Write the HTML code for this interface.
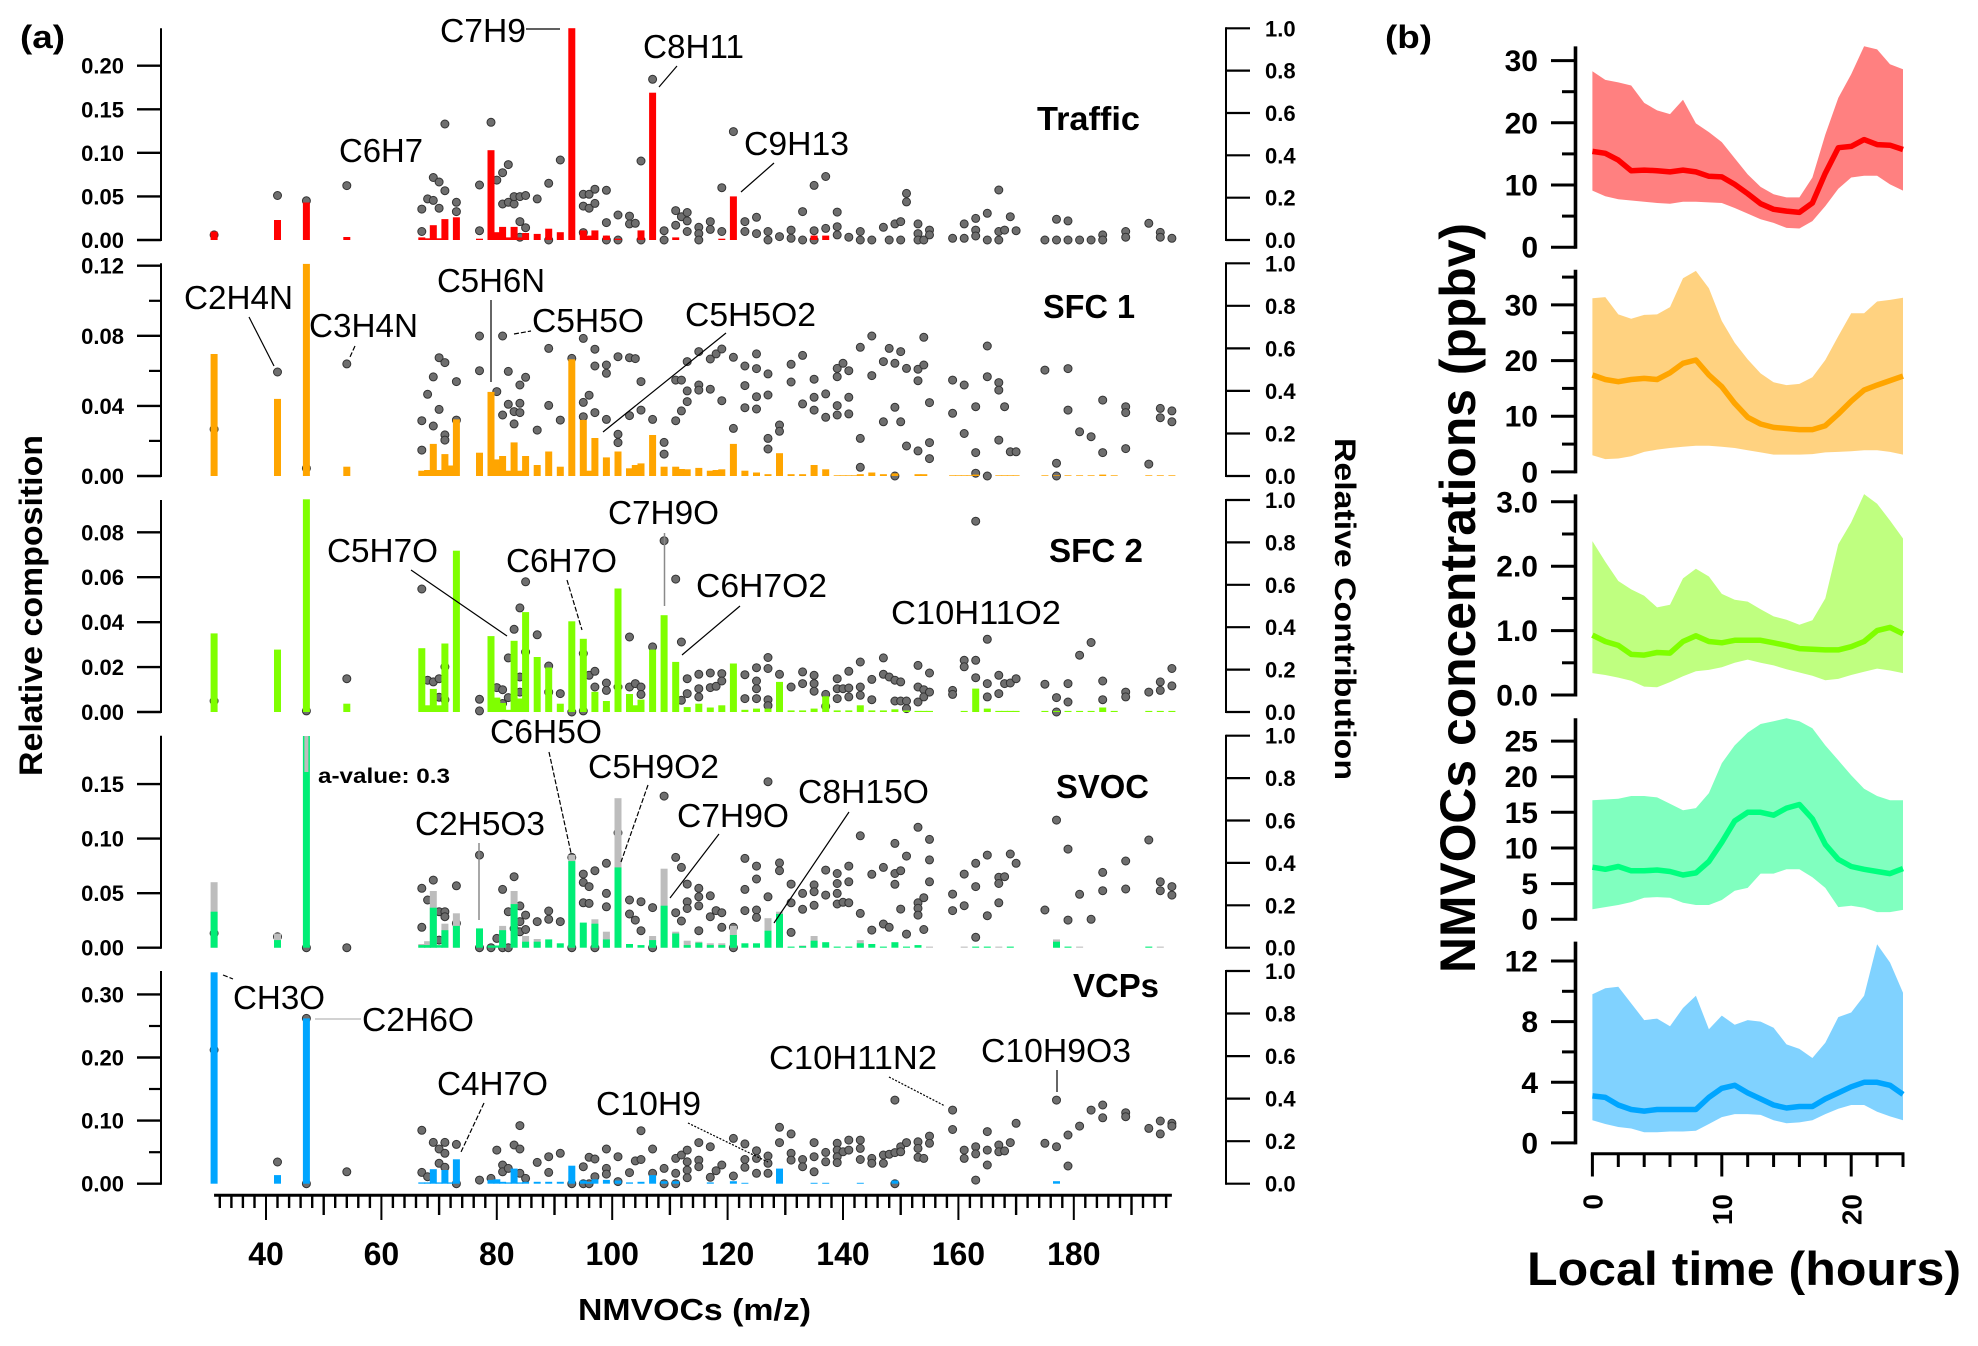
<!DOCTYPE html>
<html lang="en">
<head>
<meta charset="utf-8">
<title>NMVOC factor profiles and diurnal concentrations</title>
<style>
html,body{margin:0;padding:0;background:#fff;}
svg{display:block;font-family:"Liberation Sans",Arial,sans-serif;}
.fm{font-size:33px;fill:#000;}
.pn{font-size:33px;font-weight:bold;fill:#000;}
.ld{stroke:#000;stroke-width:1.2;fill:none;}
.ldg{stroke:#8a8a8a;stroke-width:1.5;fill:none;}
.ldl{stroke:#c4c4c4;stroke-width:1.5;fill:none;}
.dash{stroke-dasharray:5 2;}
.dot{stroke-dasharray:2 1.5;}
</style>
</head>
<body>
<svg id="chart" xmlns="http://www.w3.org/2000/svg" width="1978" height="1346" viewBox="0 0 1978 1346">
<rect x="0" y="0" width="1978" height="1346" fill="#fff"/>
<g id="layer-a"></g>
<g id="layer-b"></g>

<text x="20" y="48" font-size="32" font-weight="bold" textLength="45" lengthAdjust="spacingAndGlyphs">(a)</text>
<text x="1385" y="48" font-size="32" font-weight="bold" textLength="47" lengthAdjust="spacingAndGlyphs">(b)</text>
<text transform="translate(42,776) rotate(-90)" font-size="32" font-weight="bold" textLength="341" lengthAdjust="spacingAndGlyphs">Relative composition</text>
<text transform="translate(1335,438) rotate(90)" font-size="30" font-weight="bold" textLength="342" lengthAdjust="spacingAndGlyphs">Relative Contribution</text>
<text x="578" y="1320" font-size="31" font-weight="bold" textLength="233" lengthAdjust="spacingAndGlyphs">NMVOCs (m/z)</text>
<text transform="translate(1475,973) rotate(-90)" font-size="50" font-weight="bold" textLength="750" lengthAdjust="spacingAndGlyphs">NMVOCs concentrations (ppbv)</text>
<text x="1527" y="1285" font-size="47" font-weight="bold" textLength="434" lengthAdjust="spacingAndGlyphs">Local time (hours)</text>

<text class="pn" x="1037" y="130" textLength="103" lengthAdjust="spacingAndGlyphs">Traffic</text>
<text class="pn" x="1043" y="318" textLength="92" lengthAdjust="spacingAndGlyphs">SFC 1</text>
<text class="pn" x="1049" y="562" textLength="94" lengthAdjust="spacingAndGlyphs">SFC 2</text>
<text class="pn" x="1056" y="798" textLength="93" lengthAdjust="spacingAndGlyphs">SVOC</text>
<text class="pn" x="1073" y="997" textLength="86" lengthAdjust="spacingAndGlyphs">VCPs</text>

<text class="fm" x="440" y="42" textLength="86" lengthAdjust="spacingAndGlyphs">C7H9</text>
<line class="ld" x1="526" y1="29" x2="560" y2="29"/>
<text class="fm" x="643" y="58" textLength="101" lengthAdjust="spacingAndGlyphs">C8H11</text>
<line class="ld" x1="677" y1="66" x2="659" y2="87"/>
<text class="fm" x="339" y="162" textLength="84" lengthAdjust="spacingAndGlyphs">C6H7</text>
<text class="fm" x="744" y="155" textLength="105" lengthAdjust="spacingAndGlyphs">C9H13</text>
<line class="ld" x1="774" y1="163" x2="741" y2="192"/>

<text class="fm" x="184" y="309" textLength="109" lengthAdjust="spacingAndGlyphs">C2H4N</text>
<line class="ld" x1="249" y1="317" x2="274" y2="366"/>
<text class="fm" x="309" y="337" textLength="109" lengthAdjust="spacingAndGlyphs">C3H4N</text>
<line class="ld dash" x1="355" y1="346" x2="350" y2="357"/>
<text class="fm" x="437" y="292" textLength="108" lengthAdjust="spacingAndGlyphs">C5H6N</text>
<line class="ld" x1="491" y1="300" x2="491" y2="382"/>
<text class="fm" x="532" y="332" textLength="112" lengthAdjust="spacingAndGlyphs">C5H5O</text>
<line class="ld dash" x1="514" y1="334" x2="531" y2="331"/>
<text class="fm" x="685" y="326" textLength="131" lengthAdjust="spacingAndGlyphs">C5H5O2</text>
<line class="ld" x1="726" y1="333" x2="603" y2="432"/>

<text class="fm" x="327" y="562" textLength="111" lengthAdjust="spacingAndGlyphs">C5H7O</text>
<line class="ld" x1="411" y1="570" x2="507" y2="636"/>
<text class="fm" x="506" y="572" textLength="111" lengthAdjust="spacingAndGlyphs">C6H7O</text>
<line class="ld dash" x1="567" y1="580" x2="582" y2="630"/>
<text class="fm" x="608" y="524" textLength="111" lengthAdjust="spacingAndGlyphs">C7H9O</text>
<line class="ldg" x1="664.5" y1="533" x2="664.5" y2="606"/>
<text class="fm" x="696" y="597" textLength="131" lengthAdjust="spacingAndGlyphs">C6H7O2</text>
<line class="ld" x1="740" y1="606" x2="682" y2="655"/>
<text class="fm" x="891" y="624" textLength="170" lengthAdjust="spacingAndGlyphs">C10H11O2</text>

<text class="fm" x="490" y="743" textLength="112" lengthAdjust="spacingAndGlyphs">C6H5O</text>
<line class="ld dash" x1="549" y1="752" x2="571" y2="853"/>
<text class="fm" x="588" y="778" textLength="131" lengthAdjust="spacingAndGlyphs">C5H9O2</text>
<line class="ld dash" x1="648" y1="785" x2="621" y2="862"/>
<text x="318" y="783" font-size="21" font-weight="bold" textLength="132" lengthAdjust="spacingAndGlyphs">a-value: 0.3</text>
<text class="fm" x="415" y="835" textLength="130" lengthAdjust="spacingAndGlyphs">C2H5O3</text>
<line class="ldg" x1="479" y1="843" x2="479" y2="920"/>
<text class="fm" x="677" y="827" textLength="112" lengthAdjust="spacingAndGlyphs">C7H9O</text>
<line class="ld" x1="719" y1="834" x2="670" y2="898"/>
<text class="fm" x="798" y="803" textLength="131" lengthAdjust="spacingAndGlyphs">C8H15O</text>
<line class="ld" x1="849" y1="812" x2="774" y2="923"/>

<text class="fm" x="233" y="1009" textLength="92" lengthAdjust="spacingAndGlyphs">CH3O</text>
<line class="ld dash" x1="223" y1="975" x2="233" y2="979"/>
<text class="fm" x="362" y="1031" textLength="112" lengthAdjust="spacingAndGlyphs">C2H6O</text>
<line class="ldl" x1="315" y1="1019" x2="361" y2="1019"/>
<text class="fm" x="437" y="1095" textLength="111" lengthAdjust="spacingAndGlyphs">C4H7O</text>
<line class="ld dash" x1="484" y1="1103" x2="461" y2="1152"/>
<text class="fm" x="596" y="1115" textLength="105" lengthAdjust="spacingAndGlyphs">C10H9</text>
<line class="ld dot" x1="688" y1="1123" x2="768" y2="1162"/>
<text class="fm" x="769" y="1069" textLength="168" lengthAdjust="spacingAndGlyphs">C10H11N2</text>
<line class="ld dot" x1="889" y1="1077" x2="945" y2="1106"/>
<text class="fm" x="981" y="1062" textLength="150" lengthAdjust="spacingAndGlyphs">C10H9O3</text>
<line class="ld" x1="1057" y1="1070" x2="1057" y2="1092"/>
</svg>

<script>
/* ---------- Panel (a) data: [m/z, value] ---------- */
const trafficBars=[[31,.0096],[42,.023],[47,.043],[54,.0034],[67,.003],[68,.002],[69,.017],[70,.002],[71,.024],[73,.026],[77,.0015],[79,.103],[80,.009],[81,.015],[82,.003],[83,.015],[84,.003],[85,.008],[87,.007],[89,.013],[91,.009],[93,.243],[95,.011],[96,.005],[97,.011],[99,.005],[101,.0015],[105,.011],[107,.169],[111,.003],[119,.0015],[121,.05],[135,.005],[137,.005]];
const trafficPoints=[[31,.024],[42,.21],[47,.185],[54,.257],[67,.146],[67,.04],[68,.194],[69,.295],[69,.187],[70,.274],[70,.15],[71,.233],[71,.548],[73,.178],[73,.134],[77,.26],[77,.044],[79,.556],[80,.283],[81,.318],[81,.17],[82,.356],[82,.178],[83,.17],[83,.205],[84,.205],[84,.087],[84,.013],[85,.21],[85,.058],[87,.194],[89,.268],[89,0],[91,.378],[95,.216],[95,.16],[95,.035],[96,.216],[96,.15],[97,.24],[97,.173],[99,.235],[99,.082],[99,0],[101,.118],[101,0],[103,.113],[103,.076],[104,.079],[105,.373],[105,0],[107,.759],[109,.044],[109,0],[111,.139],[111,.07],[112,.11],[113,.13],[113,.09],[113,.04],[115,.06],[115,.03],[115,0],[117,.087],[117,.05],[119,.04],[119,.247],[121,.512],[123,.087],[123,.04],[125,.107],[125,.03],[127,.04],[127,0],[129,.016],[131,.047],[131,.008],[133,.134],[133,0],[135,.258],[135,.044],[135,0],[137,.3],[137,.055],[139,.132],[139,.063],[139,.024],[141,.013],[143,.04],[143,0],[145,0],[147,.06],[148,0],[149,.076],[150,.087],[150,0],[151,.22],[151,.18],[153,.076],[153,.03],[153,0],[154,0],[155,.047],[155,.024],[159,.008],[161,.076],[161,.008],[163,.102],[163,.047],[163,.019],[165,.126],[165,0],[167,.236],[167,.04],[167,0],[168,.047],[169,.11],[170,.044],[175,0],[177,.098],[177,0],[179,.09],[179,0],[181,0],[183,0],[185,.024],[185,0],[189,.04],[189,.013],[193,.079],[195,.036],[195,.013],[197,.008]];

const sfc1Bars=[[31,.0696],[42,.044],[47,.121],[54,.0053],[67,.003],[68,.0034],[69,.0183],[70,.0034],[71,.0125],[72,.006],[73,.0323],[77,.0133],[79,.048],[80,.0095],[81,.0114],[82,.003],[83,.0192],[84,.003],[85,.0114],[87,.0063],[89,.014],[91,.0053],[93,.0666],[95,.032],[96,.003],[97,.0217],[99,.0106],[101,.014],[103,.0044],[104,.0063],[105,.0072],[107,.0234],[109,.0053],[111,.0053],[112,.004],[113,.0038],[115,.0046],[117,.003],[118,.0034],[119,.0038],[121,.0183],[123,.003],[125,.002],[127,.001],[129,.013],[131,.001],[133,.001],[135,.0063],[137,.0038],[139,.0004],[140,.0004],[141,.0004],[142,.0004],[143,.001],[145,.002],[147,.001],[149,.0015],[153,.001],[154,.001],[159,.0004],[160,.0004],[161,.0004],[162,.0004],[163,.0008],[167,.0004],[168,.0004],[169,.0004],[170,.0004],[175,.0004],[177,.0004],[179,.0004],[181,.0004],[183,.0004],[185,.0008],[187,.0004],[193,.0004],[195,.0004],[197,.0004]];
const sfc1Points=[[31,.22],[42,.489],[47,.036],[54,.527],[67,.26],[67,.122],[68,.384],[69,.466],[69,.235],[70,.556],[70,.313],[71,.533],[71,.193],[71,.169],[73,.444],[73,.263],[77,.658],[77,.495],[80,.397],[81,.658],[81,.287],[82,.492],[82,.337],[83,.303],[83,.245],[84,.428],[84,.342],[84,.298],[85,.464],[87,.216],[89,.6],[89,.332],[91,.263],[93,.553],[95,.647],[95,.346],[95,.279],[96,.38],[97,.596],[97,.517],[97,.298],[99,.522],[99,.483],[99,.266],[101,.561],[101,.196],[101,.157],[103,.556],[103,.284],[104,.552],[105,.444],[105,.31],[107,.266],[109,.158],[109,.103],[111,.26],[112,.306],[113,.35],[113,.4],[113,.538],[111,.451],[112,.451],[115,.585],[115,.428],[115,.404],[117,.55],[117,.408],[118,.574],[119,.597],[119,.354],[121,.558],[121,.224],[123,.517],[123,.425],[123,.321],[125,.574],[125,.505],[125,.373],[125,.315],[127,.48],[127,.381],[127,.177],[127,.127],[129,.24],[129,.21],[131,.525],[131,.442],[133,.567],[133,.339],[135,.455],[135,.37],[135,.31],[137,.386],[137,.276],[139,.506],[139,.467],[139,.331],[139,.287],[140,.53],[141,.495],[141,.37],[141,.292],[143,.605],[143,.177],[143,.041],[145,.658],[145,.472],[147,.538],[147,.255],[148,.6],[149,.53],[149,.323],[149,0],[150,.585],[150,.255],[151,.506],[151,.141],[153,.502],[153,.448],[153,.118],[154,.652],[154,.522],[155,.345],[155,.157],[155,.082],[159,.451],[159,.295],[161,.428],[161,.2],[163,.326],[163,.11],[163,.013],[165,.611],[165,.467],[165,0],[167,.439],[167,.404],[167,.169],[168,.326],[169,.114],[170,.114],[175,.498],[177,.06],[177,0],[179,.505],[179,.31],[181,.208],[183,.185],[185,.357],[185,.11],[189,.326],[189,.298],[189,.129],[193,.056],[195,.318],[195,.274],[197,.306],[197,.255]];

const sfc2Bars=[[31,.035],[42,.0278],[47,.0947],[54,.0037],[67,.0284],[68,.003],[69,.0103],[70,.003],[71,.0305],[73,.0718],[79,.0338],[80,.0064],[81,.004],[82,.001],[83,.0317],[84,.006],[85,.0445],[87,.0245],[89,.0198],[91,.0037],[93,.0404],[95,.0326],[97,.009],[99,.0049],[101,.055],[103,.008],[104,.003],[105,.0055],[107,.0278],[109,.0431],[111,.0223],[113,.0022],[115,.0037],[117,.002],[119,.003],[121,.0216],[123,.001],[125,.0015],[127,.0015],[129,.0134],[131,.0007],[133,.0007],[135,.0015],[137,.007],[139,.0007],[141,.0007],[143,.003],[145,.0007],[147,.0007],[149,.0012],[151,.0007],[153,.0005],[154,.0005],[155,.0005],[161,.0005],[163,.0104],[165,.0015],[167,.0005],[168,.0005],[169,.0005],[170,.0005],[175,.0005],[177,.0005],[179,.0005],[181,.0005],[183,.0005],[185,.002],[187,.0005],[193,.0005],[195,.0005],[197,.0005]];
const sfc2Points=[[31,.052],[47,.005],[54,.157],[67,.58],[68,.15],[69,.142],[70,.157],[71,.213],[70,.07],[71,.058],[77,.06],[77,.005],[80,.115],[81,.105],[81,.04],[82,.255],[82,.068],[83,.39],[84,.491],[84,.165],[84,.094],[85,.614],[85,.283],[87,.364],[89,.217],[89,.094],[91,.087],[93,0],[95,.276],[95,.005],[96,.173],[97,.192],[97,.118],[99,.137],[99,.102],[101,.118],[103,.354],[103,.118],[104,.134],[105,.118],[105,.083],[107,.307],[109,.808],[111,.627],[112,.33],[113,.157],[113,.087],[112,.055],[115,.178],[115,.11],[115,.071],[117,.184],[117,.115],[118,.121],[119,.181],[119,.146],[123,.176],[123,.063],[125,.209],[125,.146],[125,.11],[125,.063],[127,.257],[127,.205],[127,.058],[127,.03],[129,.178],[131,.118],[133,.189],[133,.134],[135,.173],[135,.134],[135,.098],[137,.083],[137,.027],[139,.157],[139,.11],[139,.063],[140,.11],[141,.192],[141,.113],[141,.071],[143,.236],[143,.118],[143,.079],[145,.154],[145,.058],[147,.255],[147,.178],[148,.165],[149,.15],[149,.052],[150,.142],[150,.052],[151,.052],[151,.016],[153,.22],[153,.118],[153,.047],[154,.105],[154,.071],[155,.184],[155,.094],[159,.102],[159,.083],[161,.244],[161,.213],[163,.244],[163,.162],[163,.9],[165,.343],[165,.134],[165,.071],[167,.173],[167,.087],[168,.134],[169,.137],[170,.157],[175,.131],[177,.068],[177,0],[179,.134],[179,.047],[181,.268],[183,.328],[185,.146],[185,.058],[189,.094],[189,.071],[193,.094],[195,.142],[195,.102],[197,.205],[197,.123]];

const svocTotalBars=[[31,.06],[42,.013],[67,.0034],[68,.006],[69,.052],[71,.022],[73,.0315],[81,.02],[83,.052],[85,.0107],[87,.008],[93,.085],[97,.026],[99,.0147],[101,.137],[107,.0107],[109,.0724],[111,.0147],[113,.0064],[115,.0055],[117,.004],[119,.004],[121,.02],[127,.027],[129,.033],[133,.002],[135,.0107],[143,.007],[155,.001],[161,.001],[167,.001],[177,.0076],[181,.001],[195,.001]];
const svocBars=[[31,.033],[42,.007],[47,.194],[67,.0024],[68,.0024],[69,.0367],[70,.0024],[71,.016],[73,.02],[77,.0177],[79,.002],[80,.002],[81,.016],[83,.04],[85,.0055],[87,.0055],[89,.0076],[91,.004],[93,.0794],[95,.023],[97,.022],[99,.0076],[101,.0736],[103,.0034],[105,.0024],[107,.007],[109,.0385],[111,.013],[113,.0024],[115,.0046],[117,.0024],[119,.0024],[121,.0116],[123,.004],[125,.004],[127,.0156],[129,.031],[131,.001],[133,.0015],[135,.0064],[137,.005],[139,.001],[141,.001],[143,.004],[145,.0034],[147,.001],[149,.005],[151,.001],[153,.0024],[163,.001],[165,.001],[169,.001],[177,.0055],[179,.001],[193,.001]];
const svocCoreBars=[[47,.161,.194]];
const svocPoints=[[31,.068],[42,.052],[47,0],[54,0],[67,.28],[67,.096],[68,.225],[69,.319],[70,.17],[70,.036],[71,.17],[71,.146],[73,.292],[73,.115],[77,.437],[77,0],[79,0],[80,.044],[81,.275],[81,0],[82,.17],[82,0],[83,.335],[83,.09],[84,.197],[84,.123],[84,.075],[85,.154],[85,.086],[87,.123],[89,.173],[89,.134],[91,.123],[93,.426],[93,0],[95,.347],[95,.308],[95,.212],[96,.288],[96,.209],[97,.363],[97,0],[99,.398],[99,.256],[99,.193],[101,.542],[103,.225],[103,.159],[104,.13],[105,.217],[105,.08],[107,.189],[107,0],[109,.715],[111,.426],[111,.165],[112,.379],[112,.126],[113,.3],[113,.217],[113,.185],[115,.28],[115,.24],[115,.197],[115,.08],[117,.245],[117,.146],[118,.175],[119,.165],[119,.096],[121,.096],[121,0],[123,.421],[123,.275],[123,.175],[125,.385],[125,.324],[125,.178],[125,.143],[127,.783],[127,.24],[129,.4],[129,.363],[131,.3],[131,.212],[131,.072],[133,.256],[133,.181],[135,.296],[135,.264],[135,.2],[137,.366],[137,.248],[139,.35],[139,.303],[139,.256],[139,.206],[140,.214],[141,.385],[141,.311],[141,.212],[143,.528],[143,.162],[145,.346],[145,.083],[147,.379],[147,.112],[148,.096],[149,.492],[149,.35],[149,.299],[150,.363],[150,.182],[151,.432],[151,.064],[153,.568],[153,.212],[153,.186],[153,.154],[154,.236],[154,.086],[155,.511],[155,.414],[155,.311],[159,.253],[159,.175],[161,.347],[161,.198],[163,.398],[163,.288],[163,.049],[165,.437],[165,.151],[167,.332],[167,.303],[167,.212],[168,.335],[169,.442],[170,.398],[175,.178],[177,.602],[179,.465],[179,.13],[181,.252],[183,.134],[185,.355],[185,.269],[189,.409],[189,.277],[193,.508],[195,.311],[195,.269],[197,.288],[197,.248]];

const vcpBars=[[31,.335],[42,.0137],[47,.262],[67,.002],[68,.002],[69,.023],[70,.002],[71,.0217],[72,.002],[73,.0386],[79,.006],[80,.007],[81,.003],[82,.002],[83,.024],[84,.002],[85,.003],[87,.003],[89,.003],[91,.003],[93,.0285],[95,.005],[96,.003],[97,.007],[99,.006],[101,.005],[103,.002],[105,.003],[107,.0137],[109,.004],[111,.004],[117,.002],[121,.004],[123,.0015],[129,.024],[135,.0015],[137,.0015],[143,.0015],[149,.005],[177,.004]];
const vcpPoints=[[31,.629],[42,.102],[47,.777],[47,0],[54,.056],[67,.251],[67,.053],[68,.033],[69,.194],[70,.163],[70,.096],[71,.194],[71,.143],[71,.077],[73,.185],[73,0],[77,.017],[79,.025],[80,.158],[81,.088],[81,.056],[82,.072],[83,.182],[84,.273],[84,.163],[84,.049],[85,.025],[87,.1],[89,.127],[89,.053],[91,.143],[93,0],[95,.08],[95,0],[96,.124],[96,0],[97,.116],[97,.033],[99,.163],[99,.072],[99,.045],[101,.127],[101,.01],[103,.052],[104,.107],[105,.249],[105,.114],[107,.163],[107,.049],[109,.072],[109,0],[111,.119],[111,.049],[111,0],[112,.135],[113,.158],[113,.103],[113,.064],[113,.028],[115,.193],[115,.111],[115,.08],[117,.174],[117,.03],[118,.061],[119,.088],[121,.213],[121,.036],[123,.187],[123,.114],[123,.077],[125,.155],[125,.119],[125,.049],[127,.13],[127,.096],[127,.049],[129,.265],[129,.193],[131,.234],[131,.143],[131,.111],[133,.114],[133,.08],[135,.193],[135,.127],[135,.056],[137,.147],[137,.103],[139,.19],[139,.158],[139,.127],[139,.099],[140,.15],[141,.205],[141,.158],[143,.205],[143,.166],[143,.114],[145,.119],[145,.096],[147,.135],[147,.096],[148,.138],[149,.146],[149,0],[149,.393],[150,.174],[150,.15],[151,.193],[153,.197],[153,.166],[153,.124],[154,.119],[155,.224],[155,.19],[159,.346],[159,.255],[161,.158],[161,.119],[163,.174],[163,.14],[163,.017],[165,.245],[165,.158],[165,.088],[167,.182],[167,.15],[168,.154],[169,.193],[170,.284],[175,.19],[177,.393],[177,.174],[179,.229],[179,.083],[181,.271],[183,.346],[185,.37],[185,.31],[189,.334],[189,.315],[193,.26],[195,.295],[195,.234],[197,.284],[197,.271]];

/* Tick values for panel (a) */
const trafficTicks=[0,.05,.10,.15,.20], trafficMinor=[];
const sfc1Ticks=[0,.04,.08,.12], sfc1Minor=[.02,.06,.10];
const sfc2Ticks=[0,.02,.04,.06,.08], sfc2Minor=[];
const svocTicks=[0,.05,.10,.15], svocMinor=[];
const vcpTicks=[0,.10,.20,.30], vcpMinor=[.05,.15,.25];
const contributionTicks=[0,.2,.4,.6,.8,1];
const mzLabels=[40,60,80,100,120,140,160,180];
const mzMedium=[50,70,90,110,130,150,170,190];

/* ---------- Panel (b) data: hourly values, hours 0..24 ---------- */
const hours=[0,1,2,3,4,5,6,7,8,9,10,11,12,13,14,15,16,17,18,19,20,21,22,23,24];
const redUpper=[28.3,26.9,26.5,26,23.2,22,21.4,23.7,19.9,18.5,16.9,14.3,11.7,9.7,8.5,8,8,11.2,18.1,24,27.8,32.3,31.8,29.4,28.6];
const redMedian=[15.4,15.1,14,12.3,12.4,12.3,12.1,12.4,12.1,11.4,11.3,10.1,8.6,7,6.1,5.8,5.6,7.1,11.9,16,16.2,17.3,16.5,16.4,15.7];
const redLower=[9.1,8.2,7.7,7.5,7.3,7.1,7,7.3,7.3,7.2,7.1,6.3,5.4,4.5,3.9,3.1,3,4.2,6.6,9.4,11.2,11.5,11.5,10.1,9.1];
const orangeUpper=[31.2,31.4,28.3,27.5,28.2,28.3,29.6,34.8,36.1,33,27.1,23.2,20.2,17.7,16.1,15.6,15.8,17,20.1,24.4,28.5,28.5,30.6,30.9,31.3];
const orangeMedian=[17.4,16.6,16.2,16.6,16.8,16.6,17.8,19.5,20.1,17.4,15.3,12.3,9.8,8.6,8,7.8,7.6,7.6,8.3,10.4,12.7,14.7,15.6,16.4,17.2];
const orangeLower=[3,2.3,2.4,2.8,3.6,4,4.3,4.5,4.7,4.7,4.5,4.3,3.9,3.5,3.1,3.1,3.1,3.2,3.5,3.6,3.7,3.9,3.9,3.6,3.1];
const limeUpper=[2.39,2.07,1.77,1.64,1.54,1.36,1.4,1.81,1.96,1.84,1.57,1.48,1.45,1.33,1.22,1.17,1.09,1.16,1.5,2.34,2.68,3.12,2.97,2.71,2.43];
const limeMedian=[.93,.83,.77,.63,.62,.66,.65,.83,.92,.83,.81,.85,.85,.85,.81,.77,.72,.71,.7,.7,.75,.83,1,1.05,.95];
const limeLower=[.34,.31,.27,.22,.13,.12,.2,.29,.37,.39,.43,.5,.55,.5,.46,.4,.35,.3,.23,.25,.31,.36,.41,.38,.34];
const mintUpper=[16.7,16.8,16.9,17.3,17.3,17.1,16.2,15.3,15.6,17.7,21.9,24.4,26.2,27.4,27.8,28.2,27.8,26.8,24.4,22.3,20.2,18.3,17.3,16.7,16.7];
const mintMedian=[7.3,7,7.4,6.8,6.8,6.9,6.7,6.2,6.5,8.1,10.8,13.8,15,15,14.6,15.6,16.1,14.1,10.5,8.4,7.4,7,6.7,6.4,7.1];
const mintLower=[1.4,1.7,2,2.4,3,3.1,3,2.3,2,2,2.7,4,4.4,6.4,6.4,7,7,5.9,4.4,1.7,1.9,1.6,1,1,1.3];
const blueUpper=[9.8,10.2,10.3,9.2,8.1,8.2,7.7,8.9,9.7,7.5,8.4,7.8,8.1,8,7.6,6.5,6.2,5.6,6.6,8.3,8.6,9.7,13.1,11.9,9.9];
const blueMedian=[3.1,3,2.5,2.2,2.1,2.2,2.2,2.2,2.2,3,3.6,3.8,3.3,2.9,2.5,2.3,2.4,2.4,2.9,3.3,3.7,4,4,3.8,3.2];
const blueLower=[1.5,1.25,1.05,.95,.7,.7,.75,.75,.8,1.25,1.7,1.9,1.9,1.85,1.5,1.3,1.35,1.5,1.9,2.25,2.5,2.5,2.05,1.75,1.5];
const redTicks=[0,10,20,30], redMinor=[5,15,25];
const orangeTicks=[0,10,20,30], orangeMinor=[5,15,25,35];
const limeTicks=[0,1,2,3], limeMinor=[.5,1.5,2.5];
const mintTicks=[0,5,10,15,20,25], mintMinor=[];
const blueTicks=[0,4,8,12], blueMinor=[2,6,10];
const hourLabels=[0,10,20];

/* ---------- helpers ---------- */
const NS='http://www.w3.org/2000/svg';
function mk(parent,tag,attrs,txt){
  const e=document.createElementNS(NS,tag);
  for(const k in attrs)e.setAttribute(k,attrs[k]);
  if(txt!==undefined)e.textContent=txt;
  parent.appendChild(e);
  return e;
}
const layerA=document.getElementById('layer-a');
const layerB=document.getElementById('layer-b');
const xMz=m=>266+(m-40)*5.77;
const xHour=h=>1592.4+h*12.94;

/* ---------- panel (a) ---------- */
function drawProfile(p){
  const g=mk(layerA,'g',{});
  
  
  const yL=v=>p.y0-v*p.scale;
  const yR=v=>p.y0-v*(p.y0-p.top);

  p.points.forEach(d=>{
    const c=mk(g,'circle',{cx:xMz(d[0]).toFixed(1),cy:yR(d[1]).toFixed(1),r:4,fill:'#6e6e6e',stroke:'#333','stroke-width':1});
    
    
  });
  (p.greyBars||[]).forEach(d=>{
    const r=mk(g,'rect',{x:(xMz(d[0])-3.5).toFixed(1),y:yL(d[1]).toFixed(1),width:7,height:(d[1]*p.scale).toFixed(1),fill:'#bdbdbd'});
    
    
  });
  p.bars.forEach(d=>{
    const r=mk(g,'rect',{x:(xMz(d[0])-3.5).toFixed(1),y:yL(d[1]).toFixed(1),width:7,height:(d[1]*p.scale).toFixed(1),fill:p.color});
    
    
  });
  (p.coreBars||[]).forEach(d=>{
    const r=mk(g,'rect',{x:(xMz(d[0])-2).toFixed(1),y:yL(d[2]).toFixed(1),width:4,height:((d[2]-d[1])*p.scale).toFixed(1),fill:'#bdbdbd'});
    
    
  });

  const axL=mk(g,'line',{x1:161,x2:161,y1:p.top,y2:p.y0+1,stroke:'#000','stroke-width':2});
  
  
  p.ticks.forEach(v=>{
    const t=mk(g,'line',{x1:137,x2:161,y1:yL(v).toFixed(1),y2:yL(v).toFixed(1),stroke:'#000','stroke-width':2.4});
    
    
    const l=mk(g,'text',{x:124,y:(yL(v)+8).toFixed(1),'text-anchor':'end','font-size':22,'font-weight':'bold'},v.toFixed(2));
    
    
  });
  p.minor.forEach(v=>{
    const t=mk(g,'line',{x1:149,x2:161,y1:yL(v).toFixed(1),y2:yL(v).toFixed(1),stroke:'#000','stroke-width':2.2});
    
    
  });

  const axR=mk(g,'line',{x1:1226,x2:1226,y1:p.top-1,y2:p.y0+1,stroke:'#000','stroke-width':2});
  
  
  contributionTicks.forEach(v=>{
    const t=mk(g,'line',{x1:1226,x2:1250,y1:yR(v).toFixed(1),y2:yR(v).toFixed(1),stroke:'#000','stroke-width':2.2});
    
    
    const l=mk(g,'text',{x:1265,y:(yR(v)+8).toFixed(1),'font-size':22,'font-weight':'bold'},v.toFixed(1));
    
    
  });
}
[
 {id:'traffic',color:'#ff0000',y0:240,top:28.3,scale:871.5,bars:trafficBars,points:trafficPoints,ticks:trafficTicks,minor:trafficMinor},
 {id:'sfc-1',color:'#ffa500',y0:476,top:263.3,scale:1752.5,bars:sfc1Bars,points:sfc1Points,ticks:sfc1Ticks,minor:sfc1Minor},
 {id:'sfc-2',color:'#7fff00',y0:712,top:500,scale:2246,bars:sfc2Bars,points:sfc2Points,ticks:sfc2Ticks,minor:sfc2Minor},
 {id:'svoc',color:'#00ee76',y0:947.7,top:735.7,scale:1091,bars:svocBars,greyBars:svocTotalBars,coreBars:svocCoreBars,points:svocPoints,ticks:svocTicks,minor:svocMinor},
 {id:'vcps',color:'#00a5ff',y0:1183.7,top:971,scale:631,bars:vcpBars,points:vcpPoints,ticks:vcpTicks,minor:vcpMinor}
].forEach(drawProfile);

/* m/z axis */
const xAxisA=mk(layerA,'line',{x1:xMz(31),x2:xMz(197),y1:1195.3,y2:1195.3,stroke:'#000','stroke-width':3});


for(let m=32;m<=196;m+=2){
  const major=mzLabels.includes(m), medium=mzMedium.includes(m);
  const end=major?1220:medium?1215:1208;
  const t=mk(layerA,'line',{x1:xMz(m).toFixed(1),x2:xMz(m).toFixed(1),y1:1195,y2:end,stroke:'#000','stroke-width':major?2:2.4});
  
  
}
mzLabels.forEach(m=>{
  const l=mk(layerA,'text',{x:xMz(m).toFixed(1),y:1265,'text-anchor':'middle','font-size':32,'font-weight':'bold'},String(m));
  
  
});

/* ---------- panel (b) ---------- */
function drawDiurnal(p){
  const g=mk(layerB,'g',{});
  
  
  const y=v=>p.y0-v*p.scale;
  const up=hours.map((h,i)=>xHour(h).toFixed(1)+','+y(p.upper[i]).toFixed(1));
  const lo=hours.map((h,i)=>xHour(h).toFixed(1)+','+y(p.lower[i]).toFixed(1)).reverse();
  const band=mk(g,'polygon',{points:up.concat(lo).join(' '),fill:p.band});
  
  
  const med=mk(g,'polyline',{points:hours.map((h,i)=>xHour(h).toFixed(1)+','+y(p.median[i]).toFixed(1)).join(' '),fill:'none',stroke:p.color,'stroke-width':5.5,'stroke-linejoin':'round'});
  
  
  const ax=mk(g,'line',{x1:1575.5,x2:1575.5,y1:p.top,y2:p.y0+1.5,stroke:'#000','stroke-width':3.6});
  
  
  p.ticks.forEach(v=>{
    const t=mk(g,'line',{x1:1551,x2:1575.5,y1:y(v).toFixed(1),y2:y(v).toFixed(1),stroke:'#000','stroke-width':3});
    
    
    const l=mk(g,'text',{x:1538,y:(y(v)+10.5).toFixed(1),'text-anchor':'end','font-size':30,'font-weight':'bold'},p.digits?v.toFixed(p.digits):String(v));
    
    
  });
  p.minor.forEach(v=>{
    const t=mk(g,'line',{x1:1562,x2:1575.5,y1:y(v).toFixed(1),y2:y(v).toFixed(1),stroke:'#000','stroke-width':3});
    
    
  });
}
[
 {id:'traffic',color:'#ff0000',band:'#ff8080',y0:247.2,scale:6.22,top:46.4,upper:redUpper,median:redMedian,lower:redLower,ticks:redTicks,minor:redMinor},
 {id:'sfc-1',color:'#ffa500',band:'#ffd280',y0:471.9,scale:5.567,top:269.8,upper:orangeUpper,median:orangeMedian,lower:orangeLower,ticks:orangeTicks,minor:orangeMinor},
 {id:'sfc-2',color:'#7fff00',band:'#bfff80',y0:695,scale:64.4,top:494.4,upper:limeUpper,median:limeMedian,lower:limeLower,ticks:limeTicks,minor:limeMinor,digits:1},
 {id:'svoc',color:'#00ff7f',band:'#80ffbf',y0:919.2,scale:7.124,top:718.3,upper:mintUpper,median:mintMedian,lower:mintLower,ticks:mintTicks,minor:mintMinor},
 {id:'vcps',color:'#00a5ff',band:'#80d2ff',y0:1142.9,scale:15.16,top:941.6,upper:blueUpper,median:blueMedian,lower:blueLower,ticks:blueTicks,minor:blueMinor}
].forEach(drawDiurnal);

const xAxisB=mk(layerB,'line',{x1:xHour(0)-1.5,x2:xHour(24)+1.5,y1:1153.7,y2:1153.7,stroke:'#000','stroke-width':3});


for(let h=0;h<=24;h+=2){
  const major=hourLabels.includes(h);
  const t=mk(layerB,'line',{x1:xHour(h).toFixed(1),x2:xHour(h).toFixed(1),y1:1153.7,y2:major?1176.5:1167,stroke:'#000','stroke-width':3});
  
  
}
hourLabels.forEach(h=>{
  const l=mk(layerB,'text',{transform:'translate('+(xHour(h)+10.3).toFixed(1)+',1194) rotate(-90)','text-anchor':'end','font-size':28,'font-weight':'bold'},String(h));
  
  
});
</script>
</body>
</html>
